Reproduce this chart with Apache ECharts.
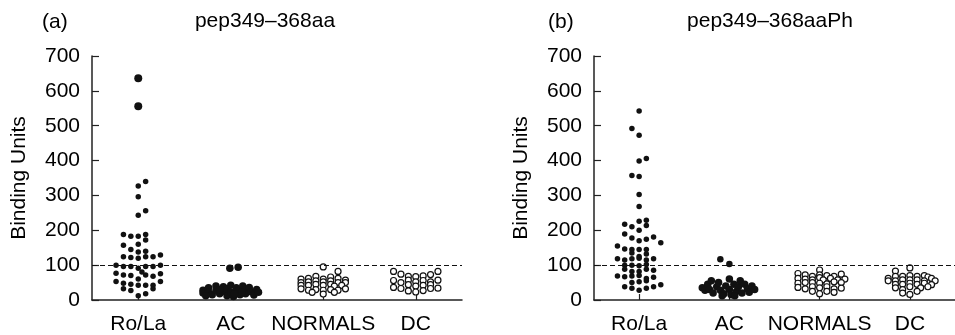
<!DOCTYPE html>
<html><head><meta charset="utf-8">
<script src="https://cdn.jsdelivr.net/npm/echarts@6/dist/echarts.min.js"></script>
<style>html,body{margin:0;padding:0;background:#fff}#c{width:955px;height:335px}</style>
</head><body><div id="c"></div>
<script>
const categories = ['Ro/La', 'AC', 'NORMALS', 'DC'];
const yTicks = [0, 100, 200, 300, 400, 500, 600, 700];
const cutoff = 100;
const titleA = 'pep349–368aa';
const titleB = 'pep349–368aaPh';
// [horizontal offset within category (category units), binding units]
const L_RoLa = [[0,636],[0,556],[0.08,340],[0,327],[0,296],[0.08,256],[0,243],
 [-0.16,188],[-0.08,183],[0,183],[0.08,188],[0.08,172],[0,160],[-0.16,157],
 [-0.08,145],[0,138],[0.08,140],[-0.16,124],[-0.08,122],[0,120],[0.08,124],[0.16,124],[0.24,129],
 [-0.24,100],[-0.16,96],[-0.08,96],[0,91],[0.08,96],[0.16,96],[0.24,100],[0.04,80],
 [-0.24,77],[-0.16,72],[-0.08,70],[0,60],[0.08,72],[0.16,68],[0.24,75],
 [-0.24,53],[-0.16,48],[-0.08,45],[0,42],[0.08,42],[0.16,42],[0.24,53],
 [-0.16,32],[-0.08,27],[0,12],[0.08,18],[0.16,32]];
const L_AC = [[-0.01,91],[0.08,94],
 [-0.3,28],[-0.3,20],[-0.24,35],[-0.24,22],[-0.2,15],[-0.16,40],[-0.16,28],[-0.12,18],
 [-0.08,38],[-0.08,25],[-0.04,12],[-0.04,32],[0,42],[0,22],[0.03,10],[0.06,35],[0.08,26],
 [0.1,15],[0.13,40],[0.16,30],[0.16,18],[0.2,36],[0.22,24],[0.25,14],[0.28,30],[0.3,22],
 [-0.27,12],[0.12,22],[-0.12,30],[0.04,18]];
const L_NOR = [[0,95],[0.16,82],
 [-0.08,68],[0.08,66],[-0.16,62],[0,60],[0.16,62],[-0.24,60],[0.24,57],
 [-0.24,50],[-0.16,52],[-0.08,55],[0,52],[0.08,55],[0.16,50],[0.24,50],
 [-0.24,42],[-0.16,42],[-0.08,45],[0,42],[0.08,45],[0.12,40],[0.2,42],
 [-0.24,32],[-0.16,28],[-0.08,30],[0,28],[0.08,30],[0.16,28],[0.24,32],
 [0,17],[-0.12,22],[0.12,22]];
const L_DC = [[-0.24,82],[-0.16,74],[-0.08,68],[0,67],[0.08,69],[0.16,73],[0.24,82],
 [-0.24,56],[-0.16,50],[-0.08,57],[0,52],[0.08,56],[0.16,52],[0.24,57],
 [-0.08,44],[0,40],[0.08,42],[0.16,44],
 [-0.24,36],[-0.16,33],[-0.08,26],[0,23],[0.08,27],[0.16,33],[0.24,34]];
const R_RoLa = [[0,542],[-0.08,492],[0,473],[0,399],[0.08,406],[-0.08,357],[0,354],[0,303],[0,268],
 [0,226],[0.08,229],[-0.16,217],[-0.08,210],[0,200],[0.08,214],
 [-0.16,189],[-0.08,178],[0,170],[0.08,174],[0.16,181],[0.24,164],
 [-0.24,155],[-0.16,146],[-0.08,145],[-0.08,135],[0,145],[0.08,145],[0.08,132],[0,125],
 [-0.24,118],[-0.16,115],[-0.08,118],[0,120],[0.08,115],[0.16,118],
 [-0.08,100],[0,98],[0.08,102],[-0.16,100],
 [-0.16,88],[-0.08,82],[0,82],[0.08,88],[0.16,85],
 [-0.24,69],[-0.16,67],[-0.08,69],[0,70],[0.08,62],[0.16,65],
 [-0.08,50],[0,52],[0.08,55],
 [-0.16,38],[-0.08,34],[0,28],[0.08,34],[0.16,38],[0.24,44]];
const R_AC = [[-0.1,117],[0,103],
 [-0.3,35],[-0.27,28],[-0.24,45],[-0.22,30],[-0.18,20],[-0.14,38],[-0.12,50],[-0.1,28],
 [-0.06,18],[-0.04,40],[0,60],[0,30],[0.02,15],[0.05,45],[0.08,25],[0.1,38],[0.12,55],
 [0.14,20],[0.17,45],[0.2,32],[0.22,22],[0.25,40],[0.28,30],[-0.2,55],[-0.08,12],[0.06,12]];
const R_NOR = [[0,86],
 [-0.24,76],[-0.16,72],[-0.08,68],[0,72],[0.08,70],[0.16,68],[0.24,74],
 [-0.24,62],[-0.16,60],[-0.08,58],[0,64],[0.04,58],[0.12,62],[0.2,58],[0.28,60],
 [-0.24,48],[-0.16,50],[-0.08,50],[0,48],[0.08,46],[0.16,52],[0.24,50],
 [-0.24,36],[-0.16,32],[-0.08,38],[0,35],[0.08,38],[0.16,32],[0.24,34],
 [-0.08,25],[0.08,25],[0,18],[0.16,22]];
const R_DC = [[0,92],[-0.16,83],
 [-0.24,62],[-0.16,68],[-0.08,68],[0,70],[0.08,68],[0.16,70],[0.2,66],[0.24,62],
 [-0.24,55],[-0.16,55],[-0.08,58],[0,58],[0.08,58],[0.16,55],[0.28,55],
 [-0.16,45],[-0.08,45],[0,48],[0.08,45],[0.16,48],[0.24,44],
 [-0.16,35],[-0.08,30],[0,38],[0.12,35],[0.2,38],
 [-0.08,20],[0,16],[0.08,25]];

const FONT = '"Liberation Sans", Arial, Helvetica, sans-serif';
const INK = '#000';
const toXY = (arr, ci) => arr.map(p => [ci + p[0], p[1]]);

function cat(gi) {
  return {type:'category', gridIndex:gi, data:categories, boundaryGap:true,
    axisLine:{show:true, onZero:false, lineStyle:{color:'#222', width:1.5}},
    axisTick:{show:true, inside:true, length:6, alignWithLabel:true, interval:0, lineStyle:{color:'#222', width:1.2}},
    axisLabel:{interval:0, margin:14, color:INK, fontFamily:FONT, fontSize:21},
    splitLine:{show:false}};
}
function hid(gi) {
  return {type:'value', gridIndex:gi, min:-0.5, max:3.5, show:false, splitLine:{show:false}};
}
function yax(gi) {
  return {type:'value', gridIndex:gi, min:yTicks[0], max:yTicks[yTicks.length-1], interval:100,
    name:'Binding Units', nameLocation:'middle', nameGap:62,
    nameTextStyle:{color:INK, fontFamily:FONT, fontSize:21},
    axisLine:{show:true, onZero:false, lineStyle:{color:'#222', width:1.5}},
    axisTick:{show:true, inside:true, length:7, lineStyle:{color:'#222', width:1.2}},
    axisLabel:{margin:12, color:INK, fontFamily:FONT, fontSize:21},
    splitLine:{show:false}};
}
function filled(data, xi, yi, size) {
  return {type:'scatter', xAxisIndex:xi, yAxisIndex:yi, data:data, symbol:'circle',
    symbolSize:size, itemStyle:{color:'#111', opacity:1}, silent:true};
}
function open(data, xi, yi) {
  return {type:'scatter', xAxisIndex:xi, yAxisIndex:yi, data:data, symbol:'circle',
    symbolSize:6, itemStyle:{color:'#fff', borderColor:'#111', borderWidth:1.2, opacity:1}, silent:true};
}
function cutLine(s) {
  s.markLine = {silent:true, symbol:'none', label:{show:false}, animation:false,
    lineStyle:{type:[5,3], color:'#111', width:1.1}, data:[{yAxis:cutoff}]};
  return s;
}
const tStyle = {fontFamily:FONT, fontSize:21, fontWeight:'normal', color:INK};

const chart = echarts.init(document.getElementById('c'), null, {renderer:'canvas'});
chart.setOption({
  animation:false,
  backgroundColor:'#fff',
  title:[
    {text:'(a)', left:42, top:12, padding:0, textStyle:tStyle},
    {text:titleA, left:265, textAlign:'center', top:11, padding:0, textStyle:tStyle},
    {text:'(b)', left:548, top:12, padding:0, textStyle:tStyle},
    {text:titleB, left:770, textAlign:'center', top:11, padding:0, textStyle:tStyle}
  ],
  grid:[
    {left:92, top:56, width:370, height:246},
    {left:594, top:56, width:368, height:246}
  ],
  xAxis:[cat(0), hid(0), cat(1), hid(1)],
  yAxis:[yax(0), yax(1)],
  series:[
    cutLine(filled(toXY(L_RoLa,0), 1, 0, v => v[1] > 500 ? 8 : 5.5)),
    filled(toXY(L_AC,1), 1, 0, 7.5),
    open(toXY(L_NOR,2), 1, 0),
    open(toXY(L_DC,3), 1, 0),
    cutLine(filled(toXY(R_RoLa,0), 3, 1, 5.5)),
    filled(toXY(R_AC,1), 3, 1, v => v[1] > 90 ? 6.5 : 7.5),
    open(toXY(R_NOR,2), 3, 1),
    open(toXY(R_DC,3), 3, 1)
  ]
});
</script></body></html>
